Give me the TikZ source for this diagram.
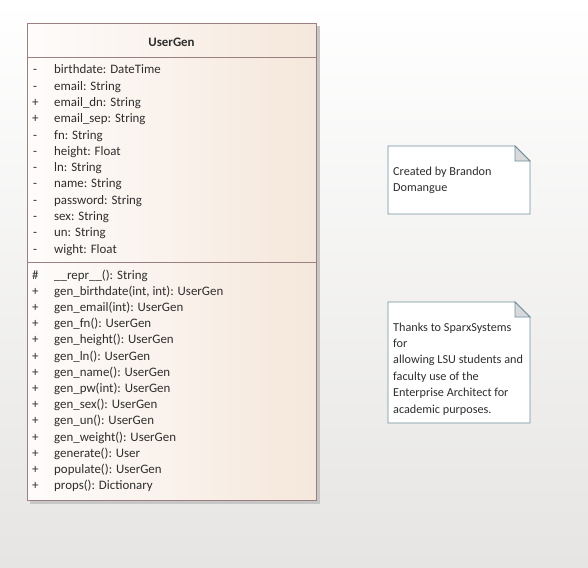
\documentclass[tikz,border=0pt]{standalone}
\usepackage{fontspec}
\setmainfont{Carlito}
\definecolor{mybgcolor}{HTML}{E6E5E3}
\definecolor{myclassleft}{HTML}{FEFCFB}
\definecolor{myclassright}{HTML}{F5E7DB}
\definecolor{myclassborder}{HTML}{9C8081}
\definecolor{mynoteborder}{HTML}{6F8E9E}
\definecolor{myfoldcolor}{HTML}{D9D9DB}
\definecolor{mytextcolor}{HTML}{2E2E2E}
\tikzset{
  row/.style={anchor=base west, inner sep=0pt, text=mytextcolor, font=\fontsize{12.9pt}{12.9pt}\selectfont},
  noteline/.style={anchor=north west, inner sep=0pt, align=left, text=mytextcolor, font=\fontsize{12.2pt}{16.4pt}\selectfont},
  notebox/.style={draw=mynoteborder, fill=white, line width=0.9pt},
}

\begin{document}
\begin{tikzpicture}[x=1pt,y=-1pt]%
\fill[top color=white, bottom color=mybgcolor] (0,0) rectangle (588,567);%
\useasboundingbox (0,0) rectangle (588,567);%
% class box
\fill[black!22] (30,26) rectangle (320,504);%
\node[draw=myclassborder, line width=0.9pt, left color=myclassleft, right color=myclassright, rectangle, minimum width=289pt, minimum height=477pt, anchor=north west, inner sep=0pt] (usergen) at (27,23) {};%
\node[text=mytextcolor, font=\fontsize{12.9pt}{12.9pt}\selectfont\bfseries] (title) at (171.5,42) {UserGen};%
\draw[myclassborder, line width=0.9pt] (27,57) -- (316,57);%
\draw[myclassborder, line width=0.9pt] (27,262) -- (316,262);%
% attributes
\node[row] (vis1) at (33,74.0) {-};%
\node[row] (attr1) at (54,74.0) {birthdate: DateTime};%
\node[row] (vis2) at (33,90.3) {-};%
\node[row] (attr2) at (54,90.3) {email: String};%
\node[row] (vis3) at (32,106.5) {+};%
\node[row] (attr3) at (54,106.5) {email\_dn: String};%
\node[row] (vis4) at (32,122.8) {+};%
\node[row] (attr4) at (54,122.8) {email\_sep: String};%
\node[row] (vis5) at (33,139.1) {-};%
\node[row] (attr5) at (54,139.1) {fn: String};%
\node[row] (vis6) at (33,155.3) {-};%
\node[row] (attr6) at (54,155.3) {height: Float};%
\node[row] (vis7) at (33,171.6) {-};%
\node[row] (attr7) at (54,171.6) {ln: String};%
\node[row] (vis8) at (33,187.9) {-};%
\node[row] (attr8) at (54,187.9) {name: String};%
\node[row] (vis9) at (33,204.2) {-};%
\node[row] (attr9) at (54,204.2) {password: String};%
\node[row] (vis10) at (33,220.4) {-};%
\node[row] (attr10) at (54,220.4) {sex: String};%
\node[row] (vis11) at (33,236.7) {-};%
\node[row] (attr11) at (54,236.7) {un: String};%
\node[row] (vis12) at (33,253.0) {-};%
\node[row] (attr12) at (54,253.0) {wight: Float};%
% operations
\node[row] (op1vis) at (32,279.0) {\#};%
\node[row] (op1) at (54,279.0) {\_\_repr\_\_(): String};%
\node[row] (op2vis) at (32,295.2) {+};%
\node[row] (op2) at (54,295.2) {gen\_birthdate(int, int): UserGen};%
\node[row] (op3vis) at (32,311.4) {+};%
\node[row] (op3) at (54,311.4) {gen\_email(int): UserGen};%
\node[row] (op4vis) at (32,327.6) {+};%
\node[row] (op4) at (54,327.6) {gen\_fn(): UserGen};%
\node[row] (op5vis) at (32,343.8) {+};%
\node[row] (op5) at (54,343.8) {gen\_height(): UserGen};%
\node[row] (op6vis) at (32,360.0) {+};%
\node[row] (op6) at (54,360.0) {gen\_ln(): UserGen};%
\node[row] (op7vis) at (32,376.2) {+};%
\node[row] (op7) at (54,376.2) {gen\_name(): UserGen};%
\node[row] (op8vis) at (32,392.4) {+};%
\node[row] (op8) at (54,392.4) {gen\_pw(int): UserGen};%
\node[row] (op9vis) at (32,408.6) {+};%
\node[row] (op9) at (54,408.6) {gen\_sex(): UserGen};%
\node[row] (op10vis) at (32,424.8) {+};%
\node[row] (op10) at (54,424.8) {gen\_un(): UserGen};%
\node[row] (op11vis) at (32,441.0) {+};%
\node[row] (op11) at (54,441.0) {gen\_weight(): UserGen};%
\node[row] (op12vis) at (32,457.2) {+};%
\node[row] (op12) at (54,457.2) {generate(): User};%
\node[row] (op13vis) at (32,473.4) {+};%
\node[row] (op13) at (54,473.4) {populate(): UserGen};%
\node[row] (op14vis) at (32,489.6) {+};%
\node[row] (op14) at (54,489.6) {props(): Dictionary};%
% notes
\draw[notebox] (388,146) -- (515,146) -- (530,161) -- (530,214) -- (388,214) -- cycle;%
\draw[notebox, fill=myfoldcolor] (515,146) -- (515,161) -- (530,161) -- cycle;%
\node[noteline] (author) at (393,166.5) {Created by Brandon\\Domangue};%
\draw[notebox] (388,302) -- (515,302) -- (530,317) -- (530,423) -- (388,423) -- cycle;%
\draw[notebox, fill=myfoldcolor] (515,302) -- (515,317) -- (530,317) -- cycle;%
\node[noteline] (thanks) at (393,322.5) {Thanks to SparxSystems\\for\\allowing LSU students and\\faculty use of the\\Enterprise Architect for\\academic purposes.};%
\end{tikzpicture}
\end{document}
